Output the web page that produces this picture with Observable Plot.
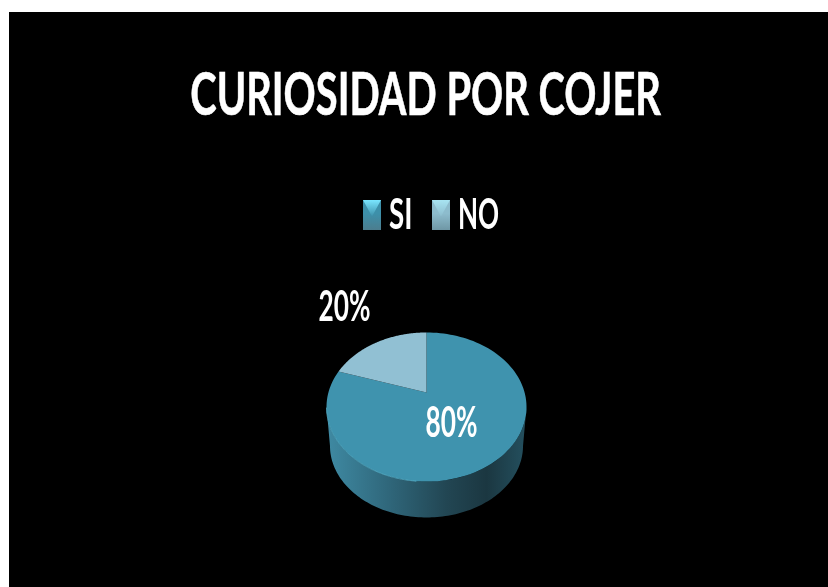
<!DOCTYPE html>
<html>
<head>
<meta charset="utf-8">
<script src="https://cdn.jsdelivr.net/npm/d3@7"></script>
<script src="https://cdn.jsdelivr.net/npm/@observablehq/plot@0.6"></script>
<style>
  html, body { margin: 0; padding: 0; background: #fff; }
  #panel { position: absolute; left: 9px; top: 12px; width: 819px; height: 575px; background: #000; overflow: hidden; color: #fff; font-family: Lato, "Open Sans", sans-serif; filter: blur(0.5px); }
  #title { position: absolute; left: 12px; width: 809px; top: 46px; text-align: center; font-size: 59px; line-height: 70px; font-weight: 700; white-space: nowrap; -webkit-text-stroke: 0.6px #fff; }
  #title span { display: inline-block; transform: scaleX(0.675); transform-origin: center; }
  #legend { position: absolute; left: 0; top: 0; }
  .sw { position: absolute; top: 188px; width: 18px; height: 30px; }
  .sw i { position: absolute; inset: 0; clip-path: polygon(0 0, 100% 0, 50% 55%); }
  .lb { position: absolute; top: 176px; font-size: 42px; line-height: 50px; font-weight: 700; transform-origin: left center; white-space: nowrap; }
  #chart { position: absolute; left: 0; top: 258px; }
  #chart svg { display: block; background: transparent; }
</style>
</head>
<body>
<div id="panel">
  <div id="title"></div>
  <div id="legend"></div>
  <div id="chart"></div>
</div>
<script>
const chartTitle = "CURIOSIDAD POR COJER";
const categories = ["SI", "NO"];
const values = [80, 20];
const labels = ["80%", "20%"];
const colors = ["#3f93ae", "#91c0d3"];
const swatchTop = ["#7ae6ff", "#a8e4f2"];
const swatchBase = ["#3d90aa", "#8dbccd"];
const swatchFoot = ["#4c7d8e", "#6f97a5"];
const legendSwatchX = [354, 423];
const legendTextX = [380, 449];
const legendStretch = [0.66, 0.62];

document.querySelector("#title").innerHTML = `<span>${chartTitle}</span>`;

const legend = document.querySelector("#legend");
categories.forEach((c, i) => {
  const sw = document.createElement("div");
  sw.className = "sw";
  sw.style.left = legendSwatchX[i] + "px";
  sw.style.background = `linear-gradient(${swatchBase[i]} 45%, ${swatchFoot[i]})`;
  const tri = document.createElement("i");
  tri.style.background = `linear-gradient(${swatchTop[i]}, ${swatchBase[i]} 55%)`;
  sw.appendChild(tri);
  legend.appendChild(sw);
  const lb = document.createElement("div");
  lb.className = "lb";
  lb.textContent = c;
  lb.style.left = legendTextX[i] + "px";
  lb.style.transform = `scaleX(${legendStretch[i]})`;
  legend.appendChild(lb);
});

// Tilted-disc projection of a pie: angle (degrees clockwise from 12 o'clock) to plane coordinates.
const persp = 0.1945, rx = 0.981, ry = 0.717;
const disc = (deg) => {
  const a = deg * Math.PI / 180, u = Math.sin(a), v = -Math.cos(a), d = 1 - persp * v;
  return {x: rx * u / d, y: ry * v / d};
};
const sweep = (from, to) => d3.range(0, 121).map((k) => disc(from + (to - from) * k / 120));
const floor = ({x, y}) => ({x: x * 0.965, y: y * 0.96 + 0.395});

const total = d3.sum(values);
let acc = 0;
const slices = values.map((v, i) => {
  const a0 = acc / total * 360;
  acc += v;
  const a1 = acc / total * 360;
  return {category: categories[i], a0, a1, pts: [{x: 0, y: 0}, ...sweep(a0, a1)].map((p) => ({...p, category: categories[i]}))};
});
const sliceTable = slices.flatMap((s) => s.pts);
const frontStart = 180 - Math.acos(persp) * 180 / Math.PI;
const frontEnd = 360 - frontStart;
const wall = [...sweep(frontStart, frontEnd), ...sweep(frontStart, frontEnd).map(floor).reverse()];
const rimGlow = sweep(185, 258);

const labelTable = [
  {text: labels[0], x: 0.25, y: 0.31},
  {text: labels[1], x: -0.82, y: -0.85}
];

const squeeze = (len) => function (index, scales, channels, dims, ctx, next) {
  const g = next(index, scales, channels, dims, ctx);
  d3.select(g).selectAll("text").attr("textLength", len).attr("lengthAdjust", "spacingAndGlyphs");
  return g;
};

const plot = Plot.plot({
  width: 819,
  height: 300,
  margin: 0,
  style: {background: "transparent"},
  x: {domain: [-1, 1], range: [317, 517], axis: null},
  y: {domain: [-1, 1], range: [22, 222], axis: null},
  color: {domain: categories, range: colors},
  marks: [
    () => {
      const svg = d3.create("svg:defs");
      const g = svg.append("linearGradient").attr("id", "wallShade");
      [[0, "#3f8aa3"], [0.3, "#30687c"], [0.6, "#224653"], [0.8, "#1b3741"], [1, "#24505f"]].forEach(([o, c]) =>
        g.append("stop").attr("offset", o).attr("stop-color", c));
      return svg.node();
    },
    Plot.line(wall, {x: "x", y: "y", fill: "url(#wallShade)", stroke: "none"}),
    Plot.line(sliceTable, {x: "x", y: "y", z: "category", fill: "category", stroke: "none"}),
    Plot.line(rimGlow, {x: "x", y: "y", stroke: "#55aec8", strokeWidth: 0.8}),
    Plot.text(labelTable, {
      x: "x", y: "y", text: "text", fill: "#fff",
      fontFamily: "Lato, sans-serif", fontSize: 42, fontWeight: 700,
      render: squeeze(52)
    })
  ]
});
document.querySelector("#chart").appendChild(plot);
</script>
</body>
</html>
